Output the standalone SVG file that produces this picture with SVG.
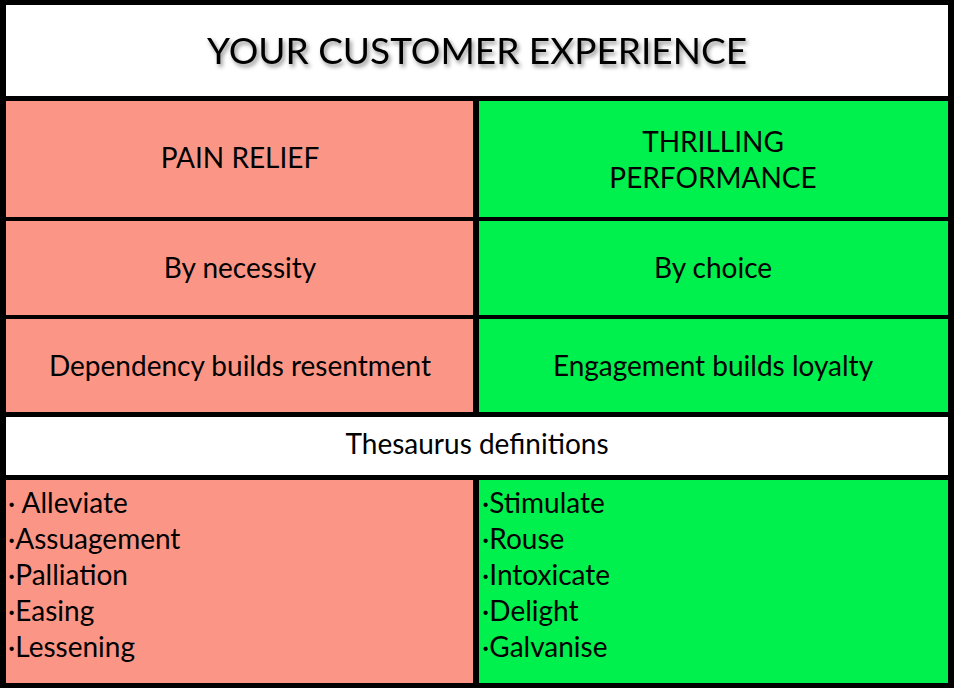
<svg xmlns="http://www.w3.org/2000/svg" width="954" height="688" viewBox="0 0 954 688">
<defs>
<style>
.p{fill:#FB9686}.g{fill:#00F04E}.w{fill:#fff}
text{font-family:Lato,"Open Sans",sans-serif;font-size:28px;fill:#000}
.c{text-anchor:middle}
.t{font-size:37px}
</style>
<filter id="sh" x="-5%" y="-20%" width="110%" height="150%"><feDropShadow dx="2" dy="3" stdDeviation="2" flood-color="#000" flood-opacity="0.45"/></filter>
</defs>
<rect width="954" height="688" fill="#000"/>
<g id="title"><rect class="w" x="6" y="5" width="942" height="91"/><text class="c t" x="477" y="64" filter="url(#sh)">YOUR CUSTOMER EXPERIENCE</text></g>
<g id="pain"><rect class="p" x="6" y="101" width="467" height="116"/><text class="c" x="240" y="168">PAIN RELIEF</text></g>
<g id="thrill"><rect class="g" x="479" y="101" width="469" height="116"/><text class="c" x="713" y="152">THRILLING</text><text class="c" x="713" y="188">PERFORMANCE</text></g>
<g id="necessity"><rect class="p" x="6" y="221" width="467" height="94"/><text class="c" x="240" y="278">By necessity</text></g>
<g id="choice"><rect class="g" x="479" y="221" width="469" height="94"/><text class="c" x="713" y="278">By choice</text></g>
<g id="dependency"><rect class="p" x="6" y="319" width="467" height="93"/><text class="c" x="240" y="376">Dependency builds resentment</text></g>
<g id="engagement"><rect class="g" x="479" y="319" width="469" height="93"/><text class="c" x="713" y="376">Engagement builds loyalty</text></g>
<g id="thesaurus"><rect class="w" x="6" y="417" width="942" height="58"/><text class="c" x="477" y="454">Thesaurus definitions</text></g>
<g id="painlist"><rect class="p" x="6" y="480" width="467" height="203"/>
<text x="8" y="513">· Alleviate</text><text x="8" y="549">·Assuagement</text><text x="8" y="585">·Palliation</text><text x="8" y="621">·Easing</text><text x="8" y="657">·Lessening</text></g>
<g id="thrilllist"><rect class="g" x="479" y="480" width="469" height="203"/>
<text x="482" y="513">·Stimulate</text><text x="482" y="549">·Rouse</text><text x="482" y="585">·Intoxicate</text><text x="482" y="621">·Delight</text><text x="482" y="657">·Galvanise</text></g>
<g id="connectors"/>
</svg>
